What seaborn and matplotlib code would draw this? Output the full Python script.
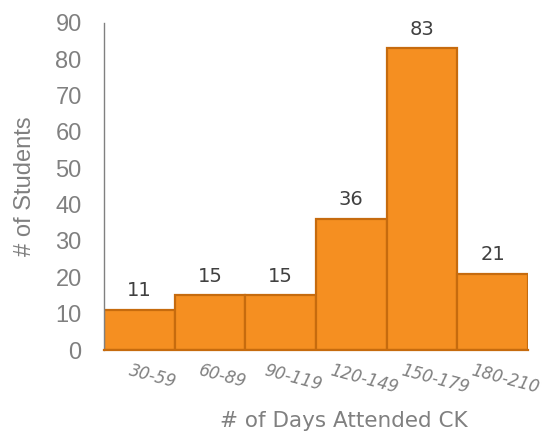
import matplotlib
matplotlib.use("Agg")
import matplotlib.pyplot as plt
import matplotlib.transforms as mtransforms
import seaborn as sns
import pandas as pd

categories = ["30-59", "60-89", "90-119", "120-149", "150-179", "180-210"]
students = [11, 15, 15, 36, 83, 21]

sns.set_style("white")
plt.rcParams['font.family'] = ['Liberation Sans', 'DejaVu Sans']

df = pd.DataFrame({"days": categories, "students": students})

fig = plt.figure(figsize=(5.47, 4.40), dpi=100)
ax = fig.add_axes([0.190, 0.2045, 0.775, 0.7435])

sns.barplot(data=df, x="days", y="students", ax=ax, width=1.0,
            color="#F58F21", saturation=1, edgecolor="#C66B0E", linewidth=1.6)

ax.set_xlim(-0.5, len(categories) - 0.5)
ax.set_ylim(0, 90)
ax.set_yticks(range(0, 91, 10))
ax.tick_params(axis="y", length=0, pad=16, labelsize=17, labelcolor="#808080")
ax.tick_params(axis="x", length=0, pad=8)

for s in ["top", "right"]:
    ax.spines[s].set_visible(False)
ax.spines["left"].set_color("#808080")
ax.spines["left"].set_linewidth(1.0)
ax.spines["bottom"].set_color("#C66B0E")
ax.spines["bottom"].set_linewidth(1.6)

ax.set_xticks(range(len(categories)))
ax.set_xticklabels(categories, rotation=-15, fontsize=12, style="italic",
                   color="#808080", ha="center", family="DejaVu Sans")
offset = mtransforms.ScaledTranslation(13 / 100, 0, fig.dpi_scale_trans)
for lbl in ax.get_xticklabels():
    lbl.set_transform(lbl.get_transform() + offset)

for i, v in enumerate(students):
    ax.annotate(str(v), (i, v), xytext=(0, 7), textcoords="offset points",
                ha="center", va="bottom", fontsize=14, color="#404040",
                family="DejaVu Sans")

ax.set_ylabel("# of Students", fontsize=17, color="#808080", labelpad=14)
ax.set_xlabel("# of Days Attended CK", fontsize=15.5, color="#808080",
              family="DejaVu Sans")
ax.xaxis.set_label_coords(0.565, -0.185)

fig.savefig("out.png", dpi=100)
